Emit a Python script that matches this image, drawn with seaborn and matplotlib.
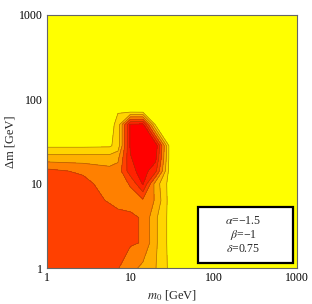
import numpy as np
import seaborn as sns
import matplotlib
matplotlib.use("Agg")
import matplotlib.pyplot as plt
from matplotlib.colors import ListedColormap, BoundaryNorm
from matplotlib.patches import Rectangle
import matplotlib.ticker as ticker

sns.set_style("ticks")
plt.rcParams["font.family"] = ["Liberation Serif", "DejaVu Serif"]
plt.rcParams["mathtext.fontset"] = "stix"

# grid nodes, log10 of GeV
log_m0 = [0.0, 0.43, 0.75, 0.85, 1.0, 1.15, 1.3, 1.47, 1.8, 3.0]
log_dm = [0.0, 0.3, 0.6, 0.8, 1.0, 1.15, 1.3, 1.45, 1.7, 1.85, 2.2, 3.0]

# contour value at each node (rows = log_dm, cols = log_m0)
z = [
    [4.5, 4.5, 4.5, 4.05, 3.4, 2.7, 2.05, 0.8, 0, 0],
    [4.5, 4.5, 4.5, 4.4, 4.1, 3.95, 2.2, 0.7, 0, 0],
    [4.5, 4.5, 4.5, 4.3, 4.2, 3.9, 2.2, 0.7, 0, 0],
    [4.5, 4.5, 3.9, 3.7, 3.6, 3.8, 2.9, 0.6, 0, 0],
    [4.5, 4.4, 3.4, 3.5, 4.1, 6.1, 2.6, 0.6, 0, 0],
    [4.3, 3.8, 3.3, 3.4, 5.6, 6.5, 5.3, 0.6, 0, 0],
    [2.5, 2.5, 2.5, 2.8, 5.9, 6.8, 6.3, 0.7, 0, 0],
    [0.8, 0.8, 0.85, 1.4, 6.2, 6.8, 6.8, 0.7, 0, 0],
    [0, 0, 0.5, 1.4, 6.2, 6.3, 0.9, 0, 0, 0],
    [0, 0, 0, 0.95, 0.95, 0.9, 0, 0, 0, 0],
    [0, 0, 0, 0, 0, 0, 0, 0, 0, 0],
    [0, 0, 0, 0, 0, 0, 0, 0, 0, 0],
]

levels = [0, 1, 2, 3, 4, 5, 6, 7]
band_colors = ["#FFFF00", "#FFD500", "#FFB000", "#FF8000", "#FF4000", "#FF2200", "#FF0000"]

tick_pos = [0, 1, 2, 3]
tick_labels = ["1", "10", "100", "1000"]
params = ["$\\alpha$=\u22121.5", "$\\beta$=\u22121", "$\\delta$=0.75"]

fig = plt.figure(figsize=(3.12, 3.04), dpi=100)
ax = fig.add_axes([0.151, 0.118, 0.801, 0.833])

cmap = ListedColormap(band_colors)
norm = BoundaryNorm(levels, cmap.N)
ax.contourf(log_m0, log_dm, z, levels=levels, cmap=cmap, norm=norm)
ax.contour(log_m0, log_dm, z, levels=levels[1:-1], colors="#7a4a00",
           linewidths=0.5, alpha=0.6)

ax.set_xlim(0, 3)
ax.set_ylim(0, 3)

minor = [d + np.log10(k) for d in range(3) for k in range(2, 10)]
for axis in (ax.xaxis, ax.yaxis):
    axis.set_major_locator(ticker.FixedLocator(tick_pos))
    axis.set_major_formatter(ticker.FixedFormatter(tick_labels))
    axis.set_minor_locator(ticker.FixedLocator(minor))
ax.tick_params(which="both", direction="in", top=True, right=True,
               colors="#444444", labelcolor="black", labelsize=8.5, pad=3)
ax.tick_params(which="major", length=4, width=0.6)
ax.tick_params(which="minor", length=2.5, width=0.5)
for s in ax.spines.values():
    s.set_color("#666666")
    s.set_linewidth(0.8)

ax.set_xlabel("$m_0$ [GeV]", fontsize=9, labelpad=3)
ax.set_ylabel("\u0394m [GeV]", fontsize=9, labelpad=2)

ax.add_patch(Rectangle((0.604, 0.02), 0.38, 0.221, transform=ax.transAxes,
                       facecolor="white", edgecolor="black", linewidth=1.6, zorder=5))
for i, t in enumerate(params):
    ax.text(0.785, 0.185 - i * 0.055, t, transform=ax.transAxes, ha="center",
            va="center", fontsize=8.5, zorder=6)

fig.savefig("out.png", dpi=100)
